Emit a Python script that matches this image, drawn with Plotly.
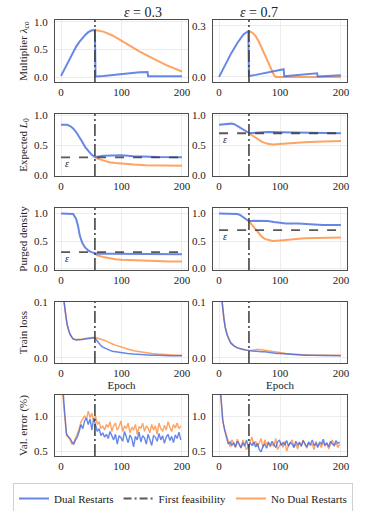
import plotly.graph_objects as go
from plotly.subplots import make_subplots


BLUE = "rgba(65, 105, 225, 0.8)"
ORANGE = "rgba(255, 127, 39, 0.72)"
FEAS_COLOR = "rgba(60, 60, 60, 0.85)"
FRAME_COLOR = "#4d4d4d"
GRID_COLOR = "#ececec"
TEXT_COLOR = "#222222"
FONT = "Liberation Serif"

EPSILONS = [0.3, 0.7]
FEASIBILITY_EPOCH = [56, 49]

# ---- multiplier lambda_co ----
LAM_BLUE_X = [
    [0, 5, 10, 15, 20, 25, 30, 35, 40, 45, 50, 56, 57, 70, 90, 110, 130, 143, 144, 170, 200],
    [0, 10, 20, 30, 40, 48, 49, 60, 80, 100, 106, 107, 130, 150, 161, 162, 200],
]
LAM_BLUE_Y = [
    [0.02, 0.13, 0.24, 0.35, 0.45, 0.55, 0.63, 0.7, 0.76, 0.81, 0.84, 0.85,
     0.01, 0.02, 0.045, 0.07, 0.085, 0.09, 0.012, 0.013, 0.015],
    [0.0, 0.07, 0.14, 0.2, 0.25, 0.27, 0.005, 0.012, 0.028, 0.04, 0.045,
     0.004, 0.01, 0.017, 0.021, 0.003, 0.01],
]
LAM_ORANGE_X = [
    [56, 70, 85, 100, 115, 130, 145, 160, 175, 190, 200],
    [49, 55, 60, 65, 70, 75, 80, 85, 90, 93, 200],
]
LAM_ORANGE_Y = [
    [0.85, 0.82, 0.75, 0.66, 0.56, 0.46, 0.37, 0.29, 0.21, 0.14, 0.10],
    [0.27, 0.26, 0.24, 0.21, 0.17, 0.13, 0.085, 0.045, 0.012, 0.0, 0.0],
]

# ---- expected L0 ----
L0_BLUE_X = [
    [0, 10, 15, 20, 25, 30, 35, 40, 45, 50, 55, 60, 70, 80, 90, 100, 120, 140, 160, 200],
    [0, 10, 20, 25, 30, 35, 40, 45, 50, 60, 70, 80, 100, 120, 150, 200],
]
L0_BLUE_Y = [
    [0.84, 0.84, 0.82, 0.78, 0.72, 0.65, 0.56, 0.47, 0.4, 0.35, 0.31, 0.31,
     0.325, 0.33, 0.335, 0.333, 0.32, 0.31, 0.305, 0.3],
    [0.84, 0.855, 0.86, 0.85, 0.82, 0.79, 0.75, 0.72, 0.7, 0.71, 0.72, 0.72,
     0.715, 0.71, 0.705, 0.7],
]
L0_ORANGE_X = [
    [56, 60, 70, 80, 90, 100, 120, 140, 160, 180, 200],
    [49, 55, 60, 65, 70, 75, 80, 88, 100, 120, 140, 160, 180, 200],
]
L0_ORANGE_Y = [
    [0.3, 0.28, 0.25, 0.22, 0.205, 0.195, 0.18, 0.17, 0.165, 0.16, 0.16],
    [0.7, 0.66, 0.62, 0.59, 0.56, 0.54, 0.525, 0.515, 0.525, 0.54, 0.55, 0.56, 0.565, 0.57],
]

# ---- purged density ----
PD_BLUE_X = [
    [0, 10, 15, 20, 25, 28, 31, 35, 40, 45, 50, 55, 60, 80, 100, 150, 200],
    [0, 20, 30, 35, 40, 45, 49, 55, 60, 70, 80, 90, 100, 110, 130, 150, 170, 200],
]
PD_BLUE_Y = [
    [1.0, 1.0, 1.0, 0.99, 0.9, 0.78, 0.6, 0.47, 0.38, 0.33, 0.3, 0.28, 0.27,
     0.27, 0.27, 0.265, 0.26],
    [1.0, 1.0, 0.99, 0.97, 0.93, 0.89, 0.86, 0.87, 0.87, 0.87, 0.865, 0.845,
     0.83, 0.82, 0.82, 0.81, 0.79, 0.79],
]
PD_ORANGE_X = [
    [56, 60, 70, 80, 90, 100, 120, 140, 160, 180, 200],
    [49, 55, 60, 65, 70, 75, 80, 88, 100, 120, 140, 160, 180, 200],
]
PD_ORANGE_Y = [
    [0.27, 0.24, 0.21, 0.185, 0.17, 0.16, 0.15, 0.14, 0.135, 0.13, 0.13],
    [0.86, 0.78, 0.7, 0.63, 0.58, 0.54, 0.52, 0.5, 0.51, 0.53, 0.55, 0.555, 0.56, 0.565],
]

# ---- train loss ----
TL_X = [0, 3, 5, 8, 10, 13, 15, 18, 20, 25, 30, 35, 40, 45, 50, 55, 58, 62, 66, 70,
        75, 80, 85, 90, 95, 100, 110, 120, 130, 140, 150, 160, 170, 180, 190, 200]
TL_BLUE_Y = [
    [0.14, 0.12, 0.1, 0.075, 0.06, 0.048, 0.042, 0.037, 0.034, 0.032, 0.032,
     0.033, 0.034, 0.035, 0.036, 0.036, 0.033, 0.027, 0.022, 0.019, 0.016,
     0.014, 0.012, 0.011, 0.01, 0.009, 0.008, 0.007, 0.006, 0.006, 0.005,
     0.005, 0.004, 0.004, 0.004, 0.004],
    [0.14, 0.12, 0.1, 0.07, 0.055, 0.042, 0.035, 0.029, 0.026, 0.021, 0.018,
     0.016, 0.015, 0.014, 0.013, 0.013, 0.012, 0.012, 0.011, 0.011, 0.011,
     0.01, 0.009, 0.009, 0.008, 0.008, 0.007, 0.006, 0.006, 0.005, 0.005,
     0.005, 0.004, 0.004, 0.004, 0.004],
]
TL_ORANGE_Y = [
    [0.14, 0.12, 0.1, 0.075, 0.06, 0.048, 0.042, 0.037, 0.034, 0.033, 0.033,
     0.034, 0.035, 0.036, 0.037, 0.037, 0.036, 0.035, 0.034, 0.032, 0.03,
     0.027, 0.025, 0.023, 0.021, 0.019, 0.016, 0.013, 0.011, 0.009, 0.008,
     0.007, 0.006, 0.006, 0.005, 0.005],
    [0.14, 0.12, 0.1, 0.07, 0.055, 0.042, 0.035, 0.029, 0.026, 0.021, 0.018,
     0.016, 0.015, 0.014, 0.013, 0.014, 0.015, 0.015, 0.015, 0.015, 0.014,
     0.013, 0.012, 0.011, 0.01, 0.009, 0.008, 0.007, 0.006, 0.006, 0.005,
     0.005, 0.005, 0.005, 0.005, 0.005],
]

# ---- validation error (every 3 epochs) ----
VE_STEP = 3
VE_BLUE_Y = [
    [1.6, 1.4, 1.05, 0.75, 0.7, 0.68, 0.63, 0.6, 0.66, 0.7, 0.78, 0.88, 0.82,
     0.93, 0.97, 0.88, 0.96, 0.8, 0.97, 0.86, 0.78, 0.82, 0.72, 0.76, 0.7,
     0.74, 0.68, 0.78, 0.71, 0.66, 0.74, 0.6, 0.72, 0.69, 0.64, 0.78, 0.7,
     0.62, 0.73, 0.68, 0.56, 0.71, 0.66, 0.77, 0.63, 0.72, 0.69, 0.6, 0.74,
     0.67, 0.58, 0.72, 0.7, 0.64, 0.75, 0.66, 0.72, 0.61, 0.7, 0.74, 0.65,
     0.71, 0.62, 0.73, 0.68, 0.77, 0.66],
    [1.6, 1.3, 0.95, 0.8, 0.7, 0.6, 0.63, 0.58, 0.62, 0.56, 0.64, 0.59, 0.55,
     0.62, 0.57, 0.66, 0.55, 0.62, 0.58, 0.63, 0.56, 0.61, 0.52, 0.49, 0.57,
     0.6, 0.54, 0.62, 0.58, 0.64, 0.6, 0.55, 0.63, 0.66, 0.58, 0.62, 0.59,
     0.65, 0.57, 0.62, 0.6, 0.55, 0.64, 0.59, 0.62, 0.57, 0.65, 0.6, 0.56,
     0.63, 0.59, 0.66, 0.58, 0.61, 0.55, 0.63, 0.6, 0.67, 0.58, 0.62, 0.56,
     0.64, 0.6, 0.58, 0.65, 0.61, 0.63],
]
VE_ORANGE_Y = [
    [1.6, 1.35, 1.0, 0.72, 0.71, 0.66, 0.6, 0.62, 0.68, 0.74, 0.82, 0.92,
     0.96, 1.0, 0.95, 1.07, 0.98, 1.04, 0.92, 1.0, 0.88, 0.92, 0.82, 0.86,
     0.8, 0.88, 0.84, 0.92, 0.78, 0.86, 0.9, 0.8, 0.85, 0.93, 0.78, 0.86,
     0.82, 0.9, 0.76, 0.84, 0.8, 0.88, 0.74, 0.85, 0.82, 0.9, 0.78, 0.86,
     0.83, 0.76, 0.88, 0.8, 0.86, 0.74, 0.9, 0.82, 0.78, 0.87, 0.8, 0.92,
     0.84, 0.78, 0.88, 0.83, 0.9, 0.82, 0.86],
    [1.6, 1.3, 0.92, 0.82, 0.72, 0.64, 0.56, 0.66, 0.6, 0.55, 0.67, 0.6,
     0.54, 0.66, 0.6, 0.52, 0.56, 0.62, 0.7, 0.58, 0.64, 0.56, 0.62, 0.68,
     0.55, 0.66, 0.6, 0.63, 0.56, 0.6, 0.57, 0.68, 0.52, 0.58, 0.62, 0.55,
     0.64, 0.5, 0.58, 0.62, 0.66, 0.56, 0.6, 0.53, 0.63, 0.57, 0.66, 0.59,
     0.54, 0.62, 0.58, 0.6, 0.52, 0.64, 0.58, 0.6, 0.55, 0.63, 0.57, 0.61,
     0.53, 0.6, 0.66, 0.57, 0.62, 0.55, 0.6],
]

X_TICKS = [0, 100, 200]
Y_TICKS = [
    [[0, 0.5, 1.0], [0, 0.3]],
    [[0, 0.5, 1.0], [0, 0.5, 1.0]],
    [[0, 0.5, 1.0], [0, 0.5, 1.0]],
    [[0, 0.1], [0, 0.1]],
    [[0.5, 1.0], [0.5, 1.0]],
]
Y_TITLES = [
    "Multiplier <i>λ</i><sub><i>co</i></sub>",
    "Expected <i>L</i><sub>0</sub>",
    "Purged density",
    "Train loss",
    "Val. error (%)",
]

# layout (pixels of a 366 x 511 canvas)
W, H = 366, 511
COL_PX = [(55, 188), (213, 347)]
ROW_PX = [(20, 82), (114, 176), (208, 270), (302, 363), (395, 456)]
Y_RANGES = [
    [[-0.09, 1.03], [-0.03, 0.335]],
    [[-0.01, 1.02], [-0.01, 1.02]],
    [[-0.025, 1.1], [-0.025, 1.1]],
    [[-0.009, 0.1], [-0.009, 0.1]],
    [[0.43, 1.3], [0.43, 1.3]],
]
X_RANGE = [-10, 210]


def font(size):
    return {"family": FONT, "size": size, "color": TEXT_COLOR}


fig = make_subplots(rows=5, cols=2)


def add_line(x, y, color, row, col, width=2.0):
    fig.add_trace(
        go.Scatter(x=x, y=y, mode="lines", line={"color": color, "width": width},
                   showlegend=False, hoverinfo="skip"),
        row=row, col=col,
    )


for c in range(2):
    col = c + 1
    add_line(LAM_ORANGE_X[c], LAM_ORANGE_Y[c], ORANGE, 1, col)
    add_line(LAM_BLUE_X[c], LAM_BLUE_Y[c], BLUE, 1, col)

    add_line(L0_ORANGE_X[c], L0_ORANGE_Y[c], ORANGE, 2, col)
    add_line(L0_BLUE_X[c], L0_BLUE_Y[c], BLUE, 2, col)

    add_line(PD_ORANGE_X[c], PD_ORANGE_Y[c], ORANGE, 3, col)
    add_line(PD_BLUE_X[c], PD_BLUE_Y[c], BLUE, 3, col)

    add_line(TL_X, TL_ORANGE_Y[c], ORANGE, 4, col, 1.5)
    add_line(TL_X, TL_BLUE_Y[c], BLUE, 4, col, 1.5)

    ve_x = list(range(0, VE_STEP * len(VE_ORANGE_Y[c]), VE_STEP))
    add_line(ve_x, VE_ORANGE_Y[c], ORANGE, 5, col, 1.4)
    ve_x = list(range(0, VE_STEP * len(VE_BLUE_Y[c]), VE_STEP))
    add_line(ve_x, VE_BLUE_Y[c], BLUE, 5, col, 1.4)

    # epsilon target lines
    for row in (2, 3):
        fig.add_trace(
            go.Scatter(x=[0, 200], y=[EPSILONS[c], EPSILONS[c]], mode="lines",
                       line={"color": "rgba(60,60,60,0.85)", "width": 1.8, "dash": "dash"},
                       showlegend=False, hoverinfo="skip"),
            row=row, col=col,
        )
        fig.add_annotation(
            x=10, y=EPSILONS[c] - 0.11, text="<i>ε</i>", showarrow=False,
            font=font(10), row=row, col=col,
        )

    for row in range(1, 6):
        fig.add_vline(
            x=FEASIBILITY_EPOCH[c],
            line={"color": FEAS_COLOR, "width": 1.8, "dash": "12px,3px,2px,3px"},
            row=row, col=col,
        )

# legend entries
fig.add_trace(go.Scatter(x=[None], y=[None], mode="lines", name="Dual Restarts",
                         line={"color": BLUE, "width": 2}))
fig.add_trace(go.Scatter(x=[None], y=[None], mode="lines", name="First feasibility",
                         line={"color": FEAS_COLOR, "width": 2, "dash": "8px,3px,2px,3px"}))
fig.add_trace(go.Scatter(x=[None], y=[None], mode="lines", name="No Dual Restarts",
                         line={"color": ORANGE, "width": 2}))

for r in range(5):
    for c in range(2):
        x0, x1 = COL_PX[c]
        y0, y1 = ROW_PX[r]
        fig.update_xaxes(
            domain=[x0 / W, x1 / W], range=X_RANGE, tickvals=X_TICKS,
            showline=True, mirror=True, linecolor=FRAME_COLOR, linewidth=1.3,
            showgrid=True, gridcolor=GRID_COLOR, gridwidth=0.8, zeroline=False,
            ticks="", tickfont=font(11),
            row=r + 1, col=c + 1,
        )
        fig.update_yaxes(
            domain=[1 - y1 / H, 1 - y0 / H], range=Y_RANGES[r][c],
            tickvals=Y_TICKS[r][c], tickformat=".1f",
            showline=True, mirror=True, linecolor=FRAME_COLOR, linewidth=1.3,
            showgrid=True, gridcolor=GRID_COLOR, gridwidth=0.8, zeroline=False,
            ticks="", ticklabelstandoff=4, tickfont=font(11),
            row=r + 1, col=c + 1,
        )
        if c == 0:
            fig.update_yaxes(
                title_text=Y_TITLES[r], title_standoff=4, title_font=font(11),
                row=r + 1, col=c + 1,
            )
        if r == 3:
            fig.update_xaxes(
                title_text="Epoch", title_standoff=2, title_font=font(11),
                row=r + 1, col=c + 1,
            )

for c in range(2):
    x0, x1 = COL_PX[c]
    fig.add_annotation(
        x=(x0 + x1) / 2 / W, y=1 - 12 / H, xref="paper", yref="paper",
        yanchor="middle", text=f"<i>ε</i> = {EPSILONS[c]}", showarrow=False,
        font=font(14),
    )

fig.update_layout(
    width=W, height=H,
    margin={"l": 0, "r": 0, "t": 0, "b": 0, "autoexpand": False},
    paper_bgcolor="white", plot_bgcolor="white",
    font=font(11),
    legend={
        "orientation": "h", "x": 0.5, "xanchor": "center",
        "y": 1 - 483 / H, "yanchor": "top",
        "bordercolor": "#d0d0d0", "borderwidth": 1,
        "font": font(11),
        "itemwidth": 30, "tracegroupgap": 0,
    },
)

# the page body has a default 8px margin; drop it so the figure sits at (0, 0)
fig.write_html(
    "out.html",
    config={"displayModeBar": False},
    post_script="document.body.style.margin = '0';",
)
